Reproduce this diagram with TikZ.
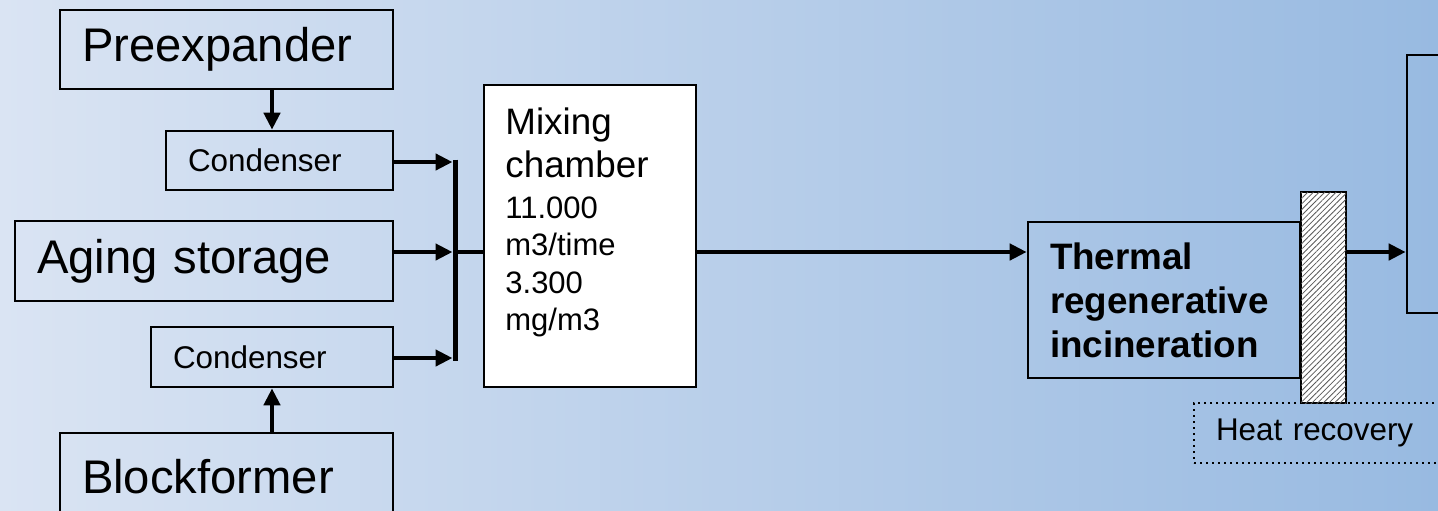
\documentclass[tikz,border=0pt]{standalone}
\usepackage{fontspec}
\setmainfont{Liberation Sans}
\usetikzlibrary{arrows.meta,patterns.meta}
\definecolor{bgL}{RGB}{218,228,243}
\definecolor{bgR}{RGB}{152,186,225}
\begin{document}
\begin{tikzpicture}[x=0.5pt,y=-0.5pt,
 box/.style={draw, line width=1.3pt, inner xsep=11pt, inner ysep=0pt, align=left},
 big/.style={font=\fontsize{23.6}{28}\selectfont},
 small/.style={font=\fontsize{15.7}{19}\selectfont},
 flow/.style={line width=2.2pt, -{Triangle[length=8.5pt,width=8pt]}},
 busbar/.style={line width=2.5pt}]
\clip (0,0) rectangle (1438,510);
\fill[left color=bgL,right color=bgR] (0,0) rectangle (1438,510);
% left column
\node[box,big,text width=144.5pt,minimum height=39.5pt] (pre) at (226.5,49.5) {Preexpander};
\node[box,small,text width=91.5pt,minimum height=29.5pt] (c1) at (279.5,160.5) {Condenser};
\node[box,big,text width=167pt,minimum height=40pt] (aging) at (204,261) {Aging storage};
\node[box,small,text width=99pt,minimum height=30pt] (c2) at (272,357) {Condenser};
\node[box,big,text width=144.5pt,minimum height=44pt] (block) at (226.5,477) {Blockformer};
% mixing chamber
\node[box,fill=white,minimum width=106pt,minimum height=151pt] (mix) at (590,236) {};
\node[anchor=base west,inner sep=0pt] (mixlbl) at (505,134)
 {\parbox[t]{90pt}{\raggedright
  \fontsize{18.4}{21.5}\selectfont Mixing\par chamber\par
  \fontsize{15.5}{18.75}\selectfont\vspace{1.75pt}11.000\par m3/time\par 3.300\par mg/m3}};
% thermal incineration
\node[box,text width=114pt,minimum height=78pt,font=\fontsize{18.4}{22}\selectfont\bfseries] (therm) at (1164,300)
 {Thermal\\regenerative\\incineration};
\node[draw,dotted,line width=1pt,minimum width=126pt,minimum height=30pt,inner xsep=11pt,text width=104pt,align=left,small] (heat) at (1320,433) {Heat recovery};
\node[draw,line width=1.3pt,fill=white,minimum width=22.5pt,minimum height=105.5pt,inner sep=0pt,
  postaction={pattern={Lines[angle=45,distance=2pt,line width=0.4pt]},pattern color=black!65}] (hatch) at (1323.5,297.5) {};
\node[box,minimum width=31.5pt,minimum height=129pt] (stack) at (1438.5,184) {};
% junction
\coordinate (j1) at (455,162);
\coordinate (j2) at (455,252);
\coordinate (j3) at (455,358);
\coordinate (ax) at (272,0);
\draw[busbar] ([yshift=1.25pt]j1) -- ([yshift=-1.25pt]j3);
\draw[flow,shorten >=1.25pt] (c1.east |- j1) -- (j1);
\draw[flow,shorten >=1.25pt] (aging.east |- j2) -- (j2);
\draw[flow,shorten >=1.25pt] (c2.east |- j3) -- (j3);
\draw[line width=2.2pt] (j2) -- (mix.west |- j2);
\draw[flow] (pre.south -| ax) -- (c1.north -| ax);
\draw[flow] (block.north -| ax) -- (c2.south -| ax);
\draw[flow] (mix.east |- j2) -- (therm.west |- j2);
\draw[flow] (hatch.east |- j2) -- (stack.west |- j2);
\end{tikzpicture}
\end{document}
